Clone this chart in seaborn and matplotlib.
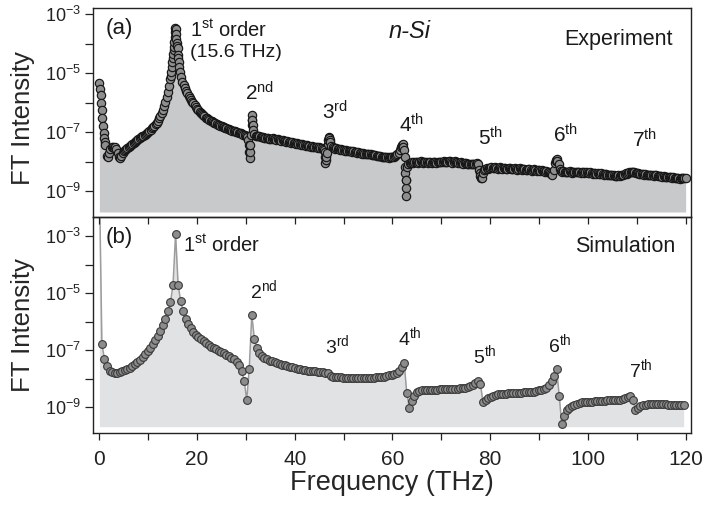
import numpy as np
import pandas as pd
import matplotlib
matplotlib.use("Agg")
import matplotlib.pyplot as plt
import seaborn as sns
from matplotlib.ticker import FixedLocator, FixedFormatter, NullFormatter

# ---------------- data (log10 of FT intensity) ----------------
# Experiment: uniform grid, 0.25 THz step starting at 0 THz
exp_step = 0.25
exp_log = [
    -5.35, -5.75, -6.25, -6.80, -7.20, -7.45, -7.80, -7.86, -7.70, -7.58, -7.52, -7.50, -7.55, -7.52, -7.58, -7.72, -7.84, -7.88, -7.82, -7.72,
    -7.65, -7.61, -7.57, -7.54, -7.50, -7.47, -7.43, -7.40, -7.36, -7.33, -7.29, -7.27, -7.24, -7.21, -7.17, -7.15, -7.12, -7.09, -7.06, -7.03,
    -6.99, -6.96, -6.92, -6.88, -6.84, -6.80, -6.74, -6.68, -6.61, -6.53, -6.45, -6.35, -6.24, -6.12, -5.99, -5.83, -5.65, -5.45, -5.22, -4.96,
    -4.50, -4.11, -3.60, -3.85, -4.16, -4.62, -4.96, -5.15, -5.29, -5.40, -5.50, -5.60, -5.69, -5.77, -5.84, -5.91, -5.97, -6.03, -6.08, -6.15,
    -6.22, -6.27, -6.31, -6.36, -6.40, -6.44, -6.47, -6.51, -6.54, -6.56, -6.59, -6.62, -6.64, -6.67, -6.69, -6.71, -6.73, -6.75, -6.77, -6.79,
    -6.81, -6.83, -6.84, -6.86, -6.87, -6.89, -6.90, -6.92, -6.93, -6.95, -6.96, -6.98, -6.99, -7.01, -7.02, -7.04, -7.05, -7.07, -7.09, -7.10,
    -7.12, -7.16, -7.27, -7.89, -7.10, -6.42, -6.93, -7.08, -7.12, -7.13, -7.14, -7.15, -7.16, -7.17, -7.18, -7.19, -7.20, -7.20, -7.21, -7.22,
    -7.22, -7.24, -7.21, -7.25, -7.24, -7.27, -7.25, -7.28, -7.27, -7.30, -7.28, -7.31, -7.30, -7.33, -7.31, -7.34, -7.33, -7.36, -7.34, -7.37,
    -7.36, -7.39, -7.38, -7.41, -7.40, -7.43, -7.42, -7.45, -7.44, -7.47, -7.45, -7.48, -7.47, -7.50, -7.48, -7.51, -7.50, -7.52, -7.51, -7.53,
    -7.52, -7.54, -7.53, -7.58, -7.62, -8.04, -7.70, -7.40, -7.16, -7.35, -7.48, -7.52, -7.54, -7.56, -7.55, -7.58, -7.57, -7.60, -7.59, -7.62,
    -7.61, -7.63, -7.62, -7.65, -7.64, -7.66, -7.65, -7.68, -7.66, -7.69, -7.68, -7.70, -7.69, -7.71, -7.70, -7.73, -7.71, -7.74, -7.73, -7.75,
    -7.74, -7.76, -7.75, -7.78, -7.77, -7.79, -7.78, -7.81, -7.80, -7.82, -7.81, -7.84, -7.83, -7.85, -7.84, -7.86, -7.85, -7.87, -7.86, -7.86,
    -7.85, -7.84, -7.82, -7.79, -7.75, -7.70, -7.62, -7.52, -7.44, -7.52, -7.84, -8.90, -8.20, -8.07, -8.05, -8.04, -8.03, -8.04, -8.02, -8.03,
    -8.01, -8.04, -8.02, -7.99, -8.03, -8.05, -8.02, -8.00, -8.03, -8.04, -8.01, -8.03, -8.05, -8.02, -8.00, -8.02, -8.04, -8.01, -8.00, -8.03,
    -8.02, -8.00, -7.98, -8.01, -8.03, -8.00, -7.98, -7.99, -8.02, -8.04, -8.01, -7.99, -8.00, -8.03, -8.05, -8.04, -8.02, -8.05, -8.07, -8.06,
    -8.06, -8.08, -8.07, -8.09, -8.08, -8.10, -8.09, -8.10, -8.08, -8.06, -8.10, -8.30, -8.50, -8.57, -8.40, -8.28, -8.24, -8.22, -8.24, -8.21,
    -8.22, -8.20, -8.23, -8.21, -8.19, -8.22, -8.24, -8.21, -8.19, -8.22, -8.25, -8.23, -8.21, -8.24, -8.26, -8.23, -8.21, -8.24, -8.26, -8.25,
    -8.23, -8.26, -8.28, -8.25, -8.23, -8.26, -8.28, -8.27, -8.25, -8.28, -8.30, -8.27, -8.26, -8.29, -8.31, -8.28, -8.27, -8.30, -8.31, -8.29,
    -8.30, -8.32, -8.30, -8.33, -8.32, -8.34, -8.33, -8.35, -8.36, -8.38, -8.42, -8.46, -8.30, -8.05, -7.95, -7.98, -8.10, -8.25, -8.32, -8.34,
    -8.33, -8.35, -8.34, -8.36, -8.35, -8.33, -8.36, -8.38, -8.35, -8.34, -8.37, -8.36, -8.34, -8.37, -8.39, -8.36, -8.35, -8.38, -8.37, -8.36,
    -8.38, -8.40, -8.37, -8.39, -8.41, -8.38, -8.40, -8.42, -8.39, -8.41, -8.43, -8.40, -8.42, -8.44, -8.41, -8.43, -8.45, -8.44, -8.46, -8.45,
    -8.47, -8.46, -8.48, -8.50, -8.48, -8.47, -8.49, -8.47, -8.45, -8.44, -8.42, -8.40, -8.41, -8.39, -8.37, -8.36, -8.35, -8.37, -8.36, -8.38,
    -8.40, -8.39, -8.42, -8.41, -8.43, -8.42, -8.44, -8.43, -8.45, -8.44, -8.46, -8.45, -8.47, -8.46, -8.48, -8.47, -8.46, -8.49, -8.48, -8.50,
    -8.49, -8.51, -8.50, -8.52, -8.51, -8.53, -8.52, -8.54, -8.53, -8.55, -8.54, -8.56, -8.55, -8.57, -8.56, -8.58, -8.56, -8.57, -8.55, -8.56,
    -8.55,
]

# Experiment: additional samples on the steep resonance flanks
exp_extra_freq = [0.12, 0.37, 0.62, 0.87, 1.12,
                  14.60, 14.85, 14.92, 15.10, 15.18, 15.35, 15.42, 15.55, 15.62, 15.68, 15.82, 15.90, 16.10, 16.17, 16.38,
                  30.62, 30.68, 30.82, 30.88, 31.15, 31.20, 31.32, 31.40,
                  46.15, 46.20, 46.32, 46.40, 46.90, 46.95, 47.10, 47.15,
                  61.90, 62.10, 62.35, 62.55, 62.62, 62.68, 62.80, 62.86,
                  77.90, 78.10, 93.40, 93.60]
exp_extra_log = [-5.55, -6.00, -6.52, -7.02, -7.33,
                 -5.10, -4.78, -4.64, -4.35, -4.22, -3.95, -3.78, -3.46, -3.52, -3.68, -3.98, -4.08, -4.38, -4.50, -4.80,
                 -7.44, -7.67, -7.67, -7.44, -6.76, -6.59, -6.59, -6.76,
                 -7.67, -7.84, -7.95, -7.84, -7.27, -7.20, -7.20, -7.27,
                 -7.48, -7.40, -7.62, -8.18, -8.40, -8.63, -9.17, -8.63,
                 -8.40, -8.55, -7.99, -7.93]

# Simulation: uniform grid, 0.52 THz step starting at 0 THz
sim_step = 0.52
sim_log = [
    -1.00, -6.80, -7.31, -7.57, -7.72, -7.78, -7.80, -7.80, -7.77, -7.74,
    -7.71, -7.67, -7.62, -7.56, -7.50, -7.43, -7.35, -7.25, -7.14, -7.05,
    -6.92, -6.80, -6.66, -6.52, -6.34, -6.13, -5.90, -5.62, -5.32, -4.71,
    -2.93, -4.71, -5.29, -5.64, -5.90, -6.09, -6.24, -6.36, -6.46, -6.55,
    -6.63, -6.70, -6.77, -6.83, -6.88, -6.93, -6.98, -7.03, -7.08, -7.12,
    -7.17, -7.22, -7.27, -7.33, -7.41, -7.52, -7.74, -8.07, -8.76, -7.65,
    -5.77, -6.60, -6.92, -7.10, -7.20, -7.28, -7.33, -7.37, -7.40, -7.43,
    -7.46, -7.49, -7.52, -7.54, -7.57, -7.59, -7.61, -7.63, -7.65, -7.67,
    -7.69, -7.71, -7.72, -7.73, -7.74, -7.75, -7.76, -7.77, -7.78, -7.79,
    -7.82, -7.92, -7.94, -7.95, -7.96, -7.96, -7.97, -7.97, -7.98, -7.98,
    -7.98, -7.98, -7.98, -7.98, -7.98, -7.98, -7.98, -7.97, -7.97, -7.96,
    -7.95, -7.94, -7.93, -7.91, -7.88, -7.86, -7.84, -7.80, -7.72, -7.60,
    -7.47, -8.50, -9.03, -8.80, -8.60, -8.49, -8.45, -8.42, -8.41, -8.40,
    -8.40, -8.39, -8.39, -8.39, -8.38, -8.38, -8.38, -8.37, -8.37, -8.37,
    -8.36, -8.36, -8.35, -8.34, -8.32, -8.30, -8.28, -8.24, -8.15, -8.08,
    -8.20, -8.82, -8.76, -8.70, -8.64, -8.60, -8.57, -8.55, -8.54, -8.53,
    -8.53, -8.52, -8.52, -8.51, -8.51, -8.50, -8.50, -8.49, -8.49, -8.48,
    -8.47, -8.46, -8.44, -8.42, -8.40, -8.37, -8.32, -8.24, -8.10, -7.90,
    -7.68, -8.60, -9.60, -9.30, -9.12, -9.02, -8.96, -8.92, -8.89, -8.87,
    -8.84, -8.83, -8.82, -8.81, -8.81, -8.80, -8.80, -8.79, -8.79, -8.78,
    -8.77, -8.77, -8.76, -8.75, -8.75, -8.74, -8.72, -8.70, -8.66, -8.61,
    -8.74, -9.09, -9.02, -8.97, -8.94, -8.92, -8.91, -8.90, -8.90, -8.90,
    -8.90, -8.91, -8.91, -8.91, -8.92, -8.92, -8.92, -8.92, -8.93, -8.93,
    -8.93,
]

# Harmonic order labels: (number, suffix, frequency THz, log10 baseline)
orders_a = [("2", "nd", 29.9, -5.92), ("3", "rd", 45.5, -6.59), ("4", "th", 61.3, -7.00),
            ("5", "th", 77.5, -7.44), ("6", "th", 92.8, -7.34), ("7", "th", 109.0, -7.54)]
orders_b = [("2", "nd", 30.9, -5.18), ("3", "rd", 46.2, -7.11), ("4", "th", 61.1, -6.82),
            ("5", "th", 76.5, -7.46), ("6", "th", 91.8, -7.07), ("7", "th", 108.4, -7.95)]

x_major = [0, 20, 40, 60, 80, 100, 120]
x_minor = [10, 30, 50, 70, 90, 110]
y_major_exp = [-9, -7, -5, -3]
y_minor_exp = [-8, -6, -4]

# ---------------- tables ----------------
exp_freq = np.arange(len(exp_log)) * exp_step
df_exp = pd.DataFrame({
    "freq": np.concatenate([exp_freq, exp_extra_freq]),
    "logI": np.concatenate([exp_log, exp_extra_log]),
}).sort_values("freq").reset_index(drop=True)
df_exp["intensity"] = 10.0 ** df_exp["logI"]

df_sim = pd.DataFrame({"freq": np.arange(len(sim_log)) * sim_step, "logI": sim_log})
df_sim["intensity"] = 10.0 ** df_sim["logI"]

# ---------------- style ----------------
sns.set_theme(style="ticks")
plt.rcParams["font.family"] = ["Liberation Sans", "DejaVu Sans"]
plt.rcParams["mathtext.fontset"] = "custom"
plt.rcParams["mathtext.rm"] = "Liberation Sans"
plt.rcParams["mathtext.it"] = "Liberation Sans:italic"
plt.rcParams["mathtext.bf"] = "Liberation Sans:bold"
plt.rcParams["axes.edgecolor"] = "#222222"
plt.rcParams["axes.linewidth"] = 1.0
plt.rcParams["text.color"] = "#1a1a1a"
plt.rcParams["xtick.color"] = "#222222"
plt.rcParams["ytick.color"] = "#222222"

fig = plt.figure(figsize=(7.02, 5.07), dpi=100)
L, W = 93.5 / 702, (691 - 93.5) / 702
ax_a = fig.add_axes([L, 1 - 217 / 507, W, (217 - 8.3) / 507])
ax_b = fig.add_axes([L, 1 - 433 / 507, W, (433 - 217) / 507])
ax_a.set_zorder(3)
ax_a.patch.set_visible(False)

# ---------------- panel (a): experiment ----------------
ax_a.set_yscale("log")
ax_a.fill_between(df_exp["freq"], 10 ** -9.71, df_exp["intensity"], color="#c8c9cb", lw=0, zorder=1)
sns.scatterplot(data=df_exp, x="freq", y="intensity", ax=ax_a, s=36, color="#8e8e8e",
                edgecolor="#161616", linewidth=0.85, legend=False, zorder=3)
ax_a.set_ylim(10 ** -9.88, 10 ** -2.807)

# ---------------- panel (b): simulation ----------------
ax_b.set_yscale("log")
ax_b.fill_between(df_sim["freq"], 10 ** -9.69, df_sim["intensity"], color="#e1e2e4", lw=0, zorder=1)
sns.lineplot(data=df_sim, x="freq", y="intensity", ax=ax_b, estimator=None, color="#9c9c9c",
             lw=1.1, marker="o", markersize=5.6, markerfacecolor="#8c8c8c",
             markeredgecolor="#3a3a3a", markeredgewidth=0.8, zorder=3)
ax_b.set_ylim(10 ** -9.912, 10 ** -2.333)

for ax in (ax_a, ax_b):
    ax.set_xlim(-1.2, 121.1)
    ax.yaxis.set_major_locator(FixedLocator([10.0 ** e for e in y_major_exp]))
    ax.yaxis.set_major_formatter(FixedFormatter([rf"$10^{{{e}}}$" for e in y_major_exp]))
    ax.yaxis.set_minor_locator(FixedLocator([10.0 ** e for e in y_minor_exp]))
    ax.yaxis.set_minor_formatter(NullFormatter())
    ax.tick_params(axis="y", which="both", direction="out", length=5.8, width=0.9,
                   labelsize=13, pad=3, left=True, right=False)
    ax.xaxis.set_major_locator(FixedLocator(x_major))
    ax.xaxis.set_minor_locator(FixedLocator(x_minor))
    ax.set_ylabel("FT Intensity", fontsize=18.5)
    ax.yaxis.label.set_va("center")
    for s in ax.spines.values():
        s.set_visible(True)

ax_a.yaxis.set_label_coords(-0.118, 0.474)
ax_b.yaxis.set_label_coords(-0.118, 0.5)

# ticks at the panel boundary hang down into panel (b)
ax_a.tick_params(axis="x", which="both", direction="out", length=5, width=0.9,
                 bottom=True, top=False, labelbottom=False)
ax_a.set_xlabel("")
ax_b.tick_params(axis="x", which="both", direction="out", length=5, width=0.9,
                 bottom=True, top=False, labelsize=15, pad=7)
ax_b.set_xlabel("Frequency (THz)", fontsize=19.5)
ax_b.xaxis.label.set_va("center")
ax_b.xaxis.set_label_coords(0.5, -0.2315)


def lg(v):
    return 10.0 ** v


# ---------------- annotations ----------------
ax_a.text(1.2, lg(-3.67), "(a)", fontsize=16, ha="left", va="baseline")
ax_a.text(18.6, lg(-3.78), r"$\mathregular{1^{st}}$ order", fontsize=14.5, ha="left", va="baseline")
ax_a.text(18.6, lg(-4.46), "(15.6 THz)", fontsize=14, ha="left", va="baseline")
ax_a.text(63.6, lg(-3.82), "n-Si", fontsize=17, style="italic", ha="center", va="baseline")
ax_a.text(117.4, lg(-4.05), "Experiment", fontsize=15.5, ha="right", va="baseline")
for num, suf, f, lv in orders_a:
    ax_a.text(f, lg(lv), rf"$\mathregular{{{num}^{{{suf}}}}}$", fontsize=15, ha="left", va="baseline")

ax_b.text(1.2, lg(-3.25), "(b)", fontsize=16, ha="left", va="baseline")
ax_b.text(17.2, lg(-3.56), r"$\mathregular{1^{st}}$ order", fontsize=14.5, ha="left", va="baseline")
ax_b.text(117.8, lg(-3.56), "Simulation", fontsize=15.5, ha="right", va="baseline")
for num, suf, f, lv in orders_b:
    ax_b.text(f, lg(lv), rf"$\mathregular{{{num}^{{{suf}}}}}$", fontsize=14, ha="left", va="baseline")

fig.savefig("out.png", dpi=100)
